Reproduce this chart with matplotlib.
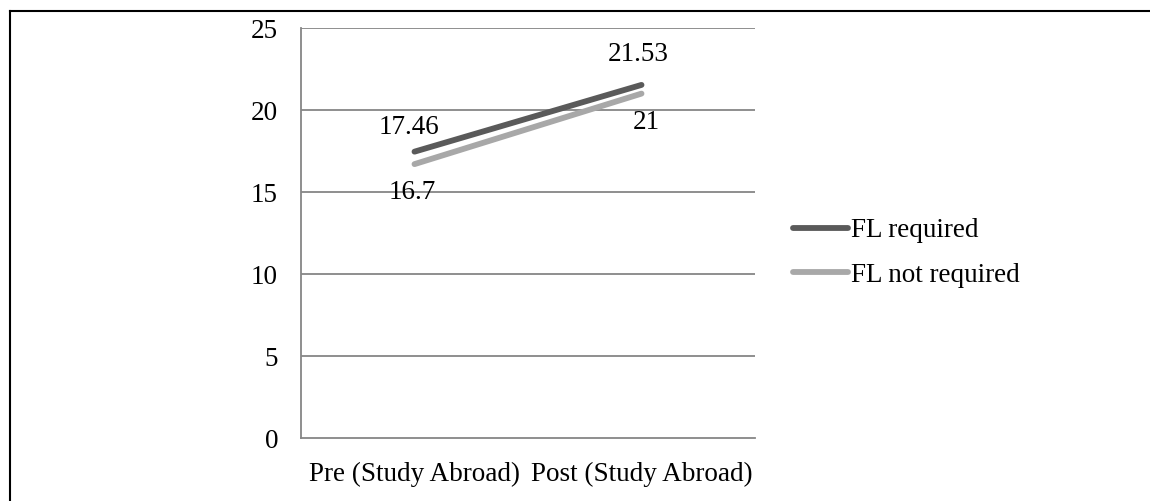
import matplotlib.pyplot as plt
from matplotlib.lines import Line2D

# Data
categories = ['Pre (Study Abroad)', 'Post (Study Abroad)']
fl_required = [17.46, 21.53]
fl_not_required = [16.7, 21]
y_ticks = [0, 5, 10, 15, 20, 25]

plt.rcParams['font.family'] = ['Liberation Serif', 'DejaVu Serif']

W, H = 1150, 501
fig = plt.figure(figsize=(W / 100, H / 100), dpi=100)

# plot area in pixels: left 301, right 755, top 28, bottom 438
ax = fig.add_axes([301 / W, 1 - 438 / H, (755 - 301) / W, (438 - 28) / H])

x = [0, 1]
grid_c = '#868686'
ax.set_xlim(-0.5, 1.5)
ax.set_ylim(0, 25)
for t in y_ticks[1:]:
    ax.axhline(t, color=grid_c, lw=1.3, zorder=1)

l1, = ax.plot(x, fl_required, color='#5a5a5a', lw=4.2, solid_capstyle='round', zorder=3, label='FL required')
l2, = ax.plot(x, fl_not_required, color='#a8a8a8', lw=4.2, solid_capstyle='round', zorder=2, label='FL not required')

fs = 19.5
# data labels (offsets in pixels, baseline anchored)
label_offsets = [
    (fl_required[0], x[0], (-6, 18)),
    (fl_required[1], x[1], (-3, 24)),
    (fl_not_required[0], x[0], (-2, -34.5)),
    (fl_not_required[1], x[1], (5, -35)),
]
for val, xi, off in label_offsets:
    ax.annotate(f'{val:g}', (xi, val), xytext=off, textcoords='offset pixels',
                ha='center', va='baseline', fontsize=fs)

for s in ['top', 'right']:
    ax.spines[s].set_visible(False)
for s in ['left', 'bottom']:
    ax.spines[s].set_color(grid_c)
    ax.spines[s].set_linewidth(1.3)

ax.set_xticks(x)
ax.set_xticklabels(categories, fontsize=fs)
ax.set_yticks(y_ticks)
ax.set_yticklabels([str(t) for t in y_ticks], fontsize=fs)
ax.tick_params(length=0)
ax.tick_params(axis='x', pad=17)
ax.tick_params(axis='y', pad=16.5)

fig.legend(handles=[l1, l2], loc='center left', bbox_to_anchor=(793 / W, 1 - 253 / H),
           frameon=False, fontsize=fs, handlelength=2.04, handletextpad=0.1,
           labelspacing=0.72, borderpad=0, borderaxespad=0)

# outer frame (top and left edges)
fig.add_artist(Line2D([10 / W, 1], [1 - 11 / H, 1 - 11 / H], color='black', lw=1.5))
fig.add_artist(Line2D([10 / W, 10 / W], [0, 1 - 11 / H], color='black', lw=1.5))

fig.savefig('out.png', dpi=100)
